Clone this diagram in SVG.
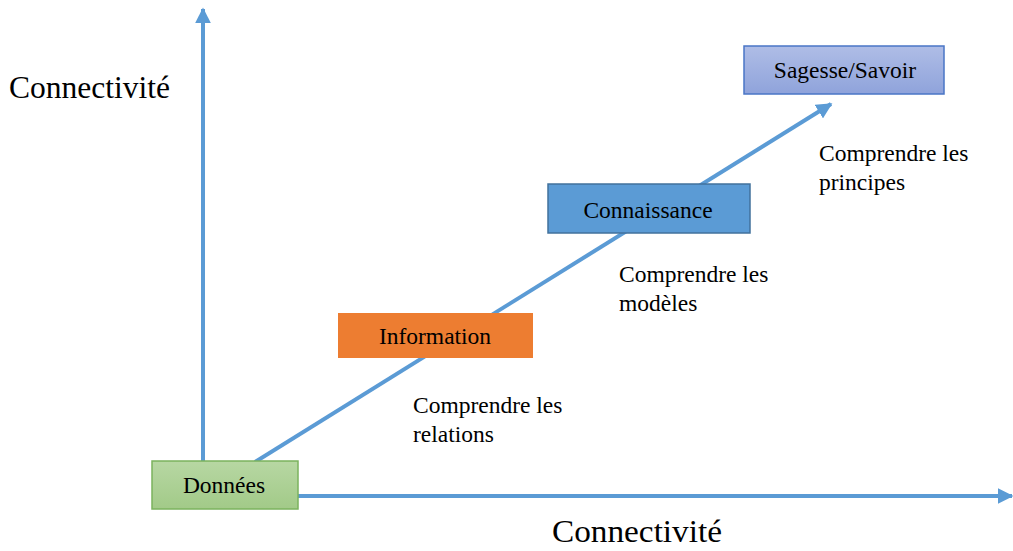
<svg xmlns="http://www.w3.org/2000/svg" width="1013" height="551" viewBox="0 0 1013 551">
<style>
text{font-family:"Liberation Serif","Times New Roman",serif;fill:#000}
.ax{stroke:#5b9bd5;stroke-width:4;fill:none}
.big{font-size:31px}
.lbl{font-size:23.5px}
.nd{font-size:23.5px;text-anchor:middle}
</style>
<defs>
<marker id="ah" viewBox="0 0 10 10" refX="9" refY="5" markerWidth="4" markerHeight="4" orient="auto" markerUnits="strokeWidth">
<path d="M0,0 L10,5 L0,10 Z" fill="#5b9bd5"/>
</marker>
<linearGradient id="gG" x1="0" y1="0" x2="0" y2="1"><stop offset="0" stop-color="#b7d7a3"/><stop offset="1" stop-color="#a2ca88"/></linearGradient>
<linearGradient id="gS" x1="0" y1="0" x2="0" y2="1"><stop offset="0" stop-color="#afbde6"/><stop offset="1" stop-color="#8fa3db"/></linearGradient>
</defs>
<g id="connectors">
<line class="ax" x1="203" y1="461" x2="203" y2="9" marker-end="url(#ah)"/>
<line class="ax" x1="298" y1="496" x2="1012" y2="496" marker-end="url(#ah)"/>
<line class="ax" x1="255" y1="462" x2="831" y2="104" marker-end="url(#ah)"/>
</g>
<g id="donnees">
<rect x="152" y="461" width="146" height="48" fill="url(#gG)" stroke="#7bb35e" stroke-width="1.5"/>
<text class="nd" x="224" y="493">Données</text>
</g>
<g id="information">
<rect x="338" y="313" width="195" height="45" fill="#ed7d31"/>
<text class="nd" x="435" y="344">Information</text>
</g>
<g id="connaissance">
<rect x="548" y="184" width="202" height="49" fill="#5b9bd5" stroke="#41719c" stroke-width="1.5"/>
<text class="nd" x="648" y="218">Connaissance</text>
</g>
<g id="sagesse">
<rect x="744" y="46" width="200" height="48" fill="url(#gS)" stroke="#4a76c6" stroke-width="1.5"/>
<text class="nd" x="845" y="78">Sagesse/Savoir</text>
</g>
<text class="big" x="9" y="98" textLength="161" lengthAdjust="spacingAndGlyphs">Connectivité</text>
<text class="big" x="552" y="542" textLength="170" lengthAdjust="spacingAndGlyphs">Connectivité</text>
<text class="lbl" x="413" y="413">Comprendre les</text>
<text class="lbl" x="413" y="442">relations</text>
<text class="lbl" x="619" y="282">Comprendre les</text>
<text class="lbl" x="619" y="311">modèles</text>
<text class="lbl" x="819" y="161">Comprendre les</text>
<text class="lbl" x="819" y="190">principes</text>
</svg>
